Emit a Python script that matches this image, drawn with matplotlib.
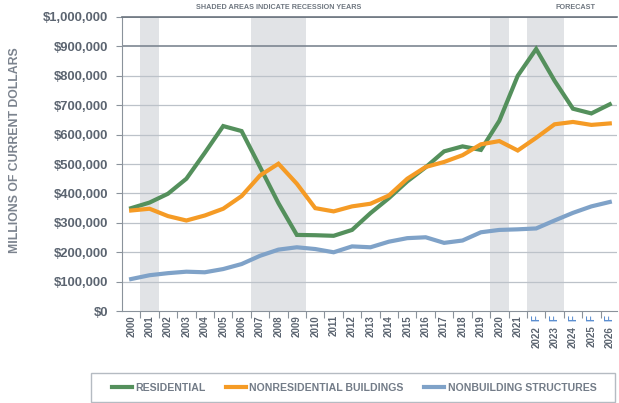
import matplotlib
matplotlib.use("Agg")
import matplotlib.pyplot as plt
import matplotlib.transforms as mtransforms
from matplotlib.patches import Rectangle
from matplotlib.lines import Line2D

plt.rcParams['font.family'] = ['Liberation Sans', 'DejaVu Sans']

# data (millions of current dollars)
years = [str(y) for y in range(2000, 2027)]
forecast_years = ['2022', '2023', '2024', '2025', '2026']
recession_years = ['2001', '2007', '2008', '2009', '2020', '2022', '2023']

residential = [350, 369, 399, 450, 538, 629, 612, 490, 367, 259,
               258, 256, 276, 333, 384, 441, 489, 543, 560, 548,
               647, 800, 891, 783, 688, 672, 703]
nonresidential = [342, 348, 323, 308, 325, 348, 391, 461, 501, 433,
                  350, 339, 356, 365, 393, 450, 490, 507, 530, 567,
                  578, 546, 589, 635, 643, 633, 638]
nonbuilding = [109, 122, 129, 134, 132, 143, 160, 188, 209, 217,
               211, 200, 220, 217, 236, 248, 251, 232, 240, 268,
               276, 278, 281, 308, 334, 356, 371]

GREEN = '#54905c'
ORANGE = '#f59b25'
BLUE = '#7fa2c8'
TXT = '#5b6470'

fig = plt.figure(figsize=(6.19, 4.03), dpi=100)
ax = fig.add_axes([0.197, 0.228, 0.800, 0.730])

x = list(range(len(years)))

# recession shading
for yr in recession_years:
    i = years.index(yr)
    ax.axvspan(i - 0.5, i + 0.5, color='#e1e3e6', lw=0, zorder=0)

# gridlines
for v in range(100, 1001, 100):
    dark = v in (900, 1000)
    ax.axhline(v * 1000, color='#7d8691' if dark else '#bcc2c9',
               lw=1.2 if dark else 0.9, zorder=1)

ax.plot(x, [v * 1000 for v in residential], color=GREEN, lw=3, zorder=3,
        solid_joinstyle='miter')
ax.plot(x, [v * 1000 for v in nonresidential], color=ORANGE, lw=3, zorder=3,
        solid_joinstyle='miter')
ax.plot(x, [v * 1000 for v in nonbuilding], color=BLUE, lw=3, zorder=3,
        solid_joinstyle='miter')

ax.set_xlim(-0.5, 26.4)
ax.set_ylim(0, 1000000)

yt = list(range(0, 1000001, 100000))
ax.set_yticks(yt)
ax.set_yticklabels(['$0'] + ['${:,}'.format(v) for v in yt[1:]],
                   fontsize=9.4, fontweight='bold', color=TXT)
ax.tick_params(axis='y', length=4, color='#8a929b', pad=6)

# x: category labels drawn by hand, ticks on boundaries
ax.set_xticks([i + 0.5 for i in range(len(years) - 1)])
ax.set_xticklabels([])
ax.tick_params(axis='x', length=5, color='#8a929b', direction='out')

for s in ['top', 'right']:
    ax.spines[s].set_visible(False)
ax.spines['left'].set_color('#8a929b')
ax.spines['bottom'].set_color('#8a929b')

trans = ax.get_xaxis_transform()
for i, yr in enumerate(years):
    off = mtransforms.offset_copy(trans, fig=fig, x=0, y=-3, units='points')
    if yr in forecast_years:
        ax.text(i, 0, 'F', transform=off, rotation=90, ha='center', va='top',
                fontsize=7, fontweight='bold', color='#5b8ed0')
        off2 = mtransforms.offset_copy(trans, fig=fig, x=0, y=-10.5, units='points')
        ax.text(i, 0, yr, transform=off2, rotation=90, ha='center', va='top',
                fontsize=7, fontweight='bold', color=TXT)
    else:
        ax.text(i, 0, yr, transform=off, rotation=90, ha='center', va='top',
                fontsize=7, fontweight='bold', color=TXT)

fig.text(0.024, 0.628, 'MILLIONS OF CURRENT DOLLARS', rotation=90,
         ha='center', va='center', fontsize=8.8, fontweight='bold', color='#7b838e')

fig.text(0.451, 0.981, 'SHADED AREAS INDICATE RECESSION YEARS', ha='center',
         va='center', fontsize=5.2, fontweight='bold', color='#6f7780')
fig.text(0.929, 0.981, 'FORECAST', ha='center', va='center', fontsize=5.2,
         fontweight='bold', color='#6f7780')

# top rule across plot
fig.add_artist(Line2D([0.197, 0.997], [0.958, 0.958], color='#6d7680', lw=1.2))

# legend box
fig.patches.append(Rectangle((91 / 619, 1 - 402 / 403), (615 - 91) / 619,
                             (402 - 373) / 403, transform=fig.transFigure,
                             fill=False, edgecolor='#b5bbc2', lw=1))
handles = [Line2D([], [], color=GREEN, lw=3),
           Line2D([], [], color=ORANGE, lw=3),
           Line2D([], [], color=BLUE, lw=3)]
labels = ['RESIDENTIAL', 'NONRESIDENTIAL BUILDINGS', 'NONBUILDING STRUCTURES']
leg = fig.legend(handles, labels, ncol=3, frameon=False,
                 loc='center left', bbox_to_anchor=(102 / 619, 1 - 388 / 403),
                 prop={'size': 7.6, 'weight': 'bold'}, handlelength=1.9,
                 handletextpad=0.35, columnspacing=1.9)
for t in leg.get_texts():
    t.set_color('#737c88')

fig.savefig('out.png', dpi=100)
